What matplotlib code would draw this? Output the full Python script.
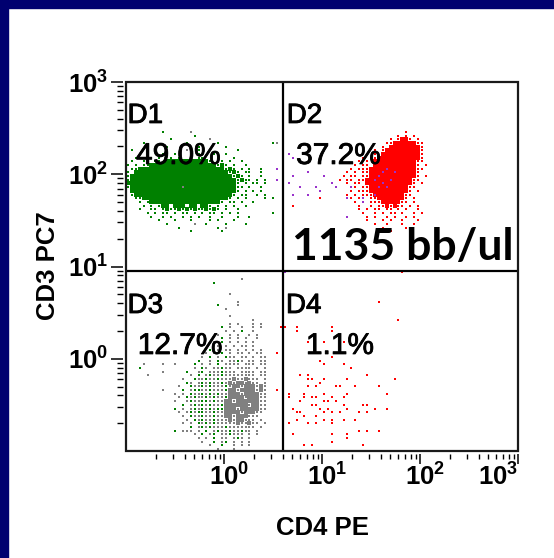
import numpy as np
import matplotlib
matplotlib.use("Agg")
import matplotlib.pyplot as plt
import matplotlib.patheffects as pe
from matplotlib.patches import Rectangle
from matplotlib.ticker import FixedLocator, FixedFormatter, LogLocator, NullFormatter
from matplotlib.transforms import ScaledTranslation

plt.rcParams['font.family'] = 'Liberation Sans'
plt.rcParams['mathtext.fontset'] = 'custom'
plt.rcParams['mathtext.rm'] = 'Liberation Sans:bold'
plt.rcParams['mathtext.it'] = 'Liberation Sans:bold'
plt.rcParams['mathtext.bf'] = 'Liberation Sans:bold'

# quadrant gates
gate_cd4 = 4.0
gate_cd3 = 9.0

quadrants = ['D1', 'D2', 'D3', 'D4']
percents = ['49.0%', '37.2%', '12.7%', '1.1%']
count_text = '1135 bb/ul'

decade_ticks = [1, 10, 100, 1000]
decade_labels = [r'$\mathbf{10^{0}}$', r'$\mathbf{10^{1}}$',
                 r'$\mathbf{10^{2}}$', r'$\mathbf{10^{3}}$']

event_colors = {'g': '#008000', 'r': '#ff0000', 'k': '#808080', 'p': '#9932cc'}

# event maps on a 0.04-decade log grid.
# tokens: "col:pattern" puts events from col on, "a-b:C" fills a run,
# lower case = single event, upper case = saturated cell, '_' clears
cell = 0.04

d1_origin = (-1.00, 2.48)
d1_rows = [
    "9:g 16:k",
    "17:g",
    "11:g 21:k",
    "4:g 15:g 23:g 37:gk",
    "10:g 18:g 25:g",
    "1:g 7:g 15:k 18:g 28:g",
    "3:g 9:g 12:g 18:g 22:g 25:g",
    "2:g..g..g..g.g..g.gg...g...g",
    "1:g..gg.gg.g.g 10-20:G 12:g 21:g.gg.g..g",
    "0:g.g.gg 6-22:G 23:gGg.g..g 30:g",
    "0:.gg 3-24:G 25:gGg.g.g..g 38:p",
    "0:g.g 2-25:G 26:gGg.gg..g",
    "0:gg 1-26:G 27:gGg.g..g",
    "0:g 1-27:G 28:gGgg.g.g 38:p",
    "0:G 1-27:G 28:g.g.gg.g",
    "0:g 1-27:G 14:k 28:gg.g..g",
    "0:.g 1-27:G 28:g.g.g.g",
    "1:g 2-26:G 27:g.gg..g.g",
    "2:gg 4-25:G 26:g.g.g....g 37:g",
    "3:g.gg 6-23:G 24:g.gg.g..g",
    "4:g.g.g 9-20:G 11:_ 15:_ 18:_ 21:g.g.g.g..g",
    "3:g..gg.gGggGgGgGggGgGg.g..g",
    "5:g.g.gg.g.gg.g.g.gg.g.g.g 37:g",
    "6:g..g.g..g.g.g..g..g...g..g",
    "8:g...g...g....g.g...g",
    "10:g......k..g....g....g",
    "13:g.........g.k",
    "16:g.......g",
]

d2_origin = (0.60, 2.48)
d2_rows = [
    "31:r",
    "29:r.r.r",
    "27:r.rRRr.r",
    "26:rr 28-33:R 34:rr",
    "25:r.r 27-34:R 35:r",
    "23:r.rr 26-34:R 35:r",
    "21:r.r.r 25-34:R 35:r 1:p",
    "20:r.rr 24-34:R 35:r 2:p",
    "19:r.r.rr 23-33:R 34:rr",
    "18:r.rr.rr 23-33:R 34:r.r",
    "17:r.rrrr 22-33:R 34:rr 26:p",
    "16:r.r.rrr 22-33:R 34:r 25:p 28:p 6:p",
    "15:r.rr.rrr 22-33:R 34:r.r 24:p 2:p 10:p",
    "16:rr.rrrr 21-32:R 33:rr 23:p 27:p 14:r",
    "16:r.rr.rr 21-32:R 33:r.r 25:p 1:p 12:p",
    "17:rr.rrr 22-31:R 32:rr 24:p 26:p 4:p 8:p 13:p 17:p",
    "17:r.rrrr 22-31:R 32:r.r 9:p",
    "16:r.r.rrr 23-30:R 31:rr 23:p 2:p 6:p",
    "17:r.rr.rrr 24-30:R 31:r.r 9:r 16:p 20:p",
    "18:r.r.rrrr 25-29:R 30:rr.r 20:p",
    "19:r..r.rrRrRrr.r.r 2:r",
    "19:r.r.rr.rr.r.r..r",
    "20:r..r.r.rr.r..r.r",
    "21:r.r..r.r..r.r 16:p",
    "21:r...r.r..r...r",
    "23:r..r...r..r",
    "25:r.....r",
    "27:r",
]

d3_origin = (-1.00, 1.00)
d3_rows = [
    "", "", "",
    "29:k",
    "22:g",
    "", "",
    "26:k",
    "",
    "28:k",
    "23:g 28:k",
    "25:k",
    "",
    "26:k",
    "32:k",
    "26:k.k 32:k.k",
    "24:g.k..k..k.k 39:r",
    "25:k.k.g..k",
    "23:k..k.k..k.k",
    "24:g.k.k.k..k",
    "22:k.g.k.k.k.k",
    "23:k.k.k.kk.k",
    "21:g.k.kk.k.k.k.k",
    "20:k.k.g.k.kk.k.kk 38:r",
    "19:k.g.k.gkk.kk.k.kk",
    "18:g..k.gk.kkgk.kk.kk",
    "4:k 9:k 12:k 17:g.k.k.g.kkkk.kkk.kk",
    "3:g 17:k.gk.kkgkk.kkkk.k.k",
    "9:k 15:g..kg.kkkgkkk.kkkk.kk",
    "5:k 16:k.g.kgkkgkkkkkkkk.kk",
    "14:k..gkkgkkgkkkKkkKkkk.k",
    "15:gk.kgkgkkgkKkKKkKkk.k",
    "13:k..gkkgkgkkkgkKKkKKKkKk",
    "9:k 14:g.kggkkgkkkgKKkKKKKkKk 38:r",
    "12:k.k.gkkgkgkgkkKKKkKKKKkk",
    "13:k.gkgkkgkgkkgKKKKkKKKkk",
    "12:k..kgkkggkgkkKKkKKKKKKkk",
    "14:g.kgkgkgkkgKKKKKKkKKkk",
    "12:g.k.kgkgkgkggKKKkKKKKKkk",
    "13:k.kgkggkkgkkKKKKkKKKkk",
    "14:k.gkkgkkgkkKKkKKKkkk",
    "15:k.gkgkkgkkkKkKKkkk.k",
    "14:k.k.gkgkgkkkkkKkkKkk.k",
    "16:g.kgkgkkkgkkkkkkk.k",
    "12:g 14:kkk.k.g.kgkkgkkgkk.k",
    "17:k.g.kg.kkgkkk.k.k",
    "18:k.k.g.kk.kgk.k",
    "19:k..g.kg.k.k.k",
    "21:k..g..k.k.k",
    "23:k...k",
]

d4_origin = (0.60, 1.00)
d4_rows = [
    "",
    "0:p 30:r",
    "", "", "", "", "", "", "",
    "24:r",
    "", "", "", "",
    "29:r",
    "",
    "0:r 3:r 12:r",
    "3:r 12:r",
    "", "",
    "6:r 10:r 15:r",
    "", "",
    "8:p",
    "12:r",
    "9:r",
    "10:r 15:r",
    "17:r",
    "",
    "4:r 6:r 21:r",
    "6:rr 10:r 16:r 28:r",
    "9:r",
    "6:r.r 13:rr 18:r 24:r",
    "",
    "1:r 5:r 10:r 16:r 26:r",
    "1:r 5:r 7:rr 12:r 15:r",
    "4:r 10:rr 13:r",
    "7:rr 15:r 20:rr",
    "2:r 9:r 11:r 16:r 23:r 26:r",
    "3:rr 10:r 12:r 14:r 19:r 21:r",
    "5:r 8:r",
    "3:r 10:r 12:r 15:r 18:r",
    "1:r 6:r 8:r 12:r",
    "",
    "19:r 21:r 24:r",
    "2:r 12:r 16:r",
    "16:r",
    "12:r",
    "5:r 7:r 20:r",
]


def parse_rows(rows, origin):
    """Turn an event map into {code: [(log x, log y), ...]}."""
    x0, y0 = origin
    events = {}
    for i, row in enumerate(rows):
        cells = {}
        for tok in row.split():
            spec, pat = tok.split(':')
            if '-' in spec:
                a, b = map(int, spec.split('-'))
                for j in range(a, b + 1):
                    cells[j] = [pat]
                continue
            start = int(spec)
            for k, ch in enumerate(pat):
                j = start + k
                if ch == '_':
                    cells.pop(j, None)
                elif ch == '.':
                    continue
                elif ch.islower() and j in cells and cells[j][0].isupper():
                    # a single event drawn on top of a saturated cell
                    cells[j] = [cells[j][0], ch]
                else:
                    cells[j] = [ch]
        for j, codes in cells.items():
            for ch in codes:
                events.setdefault(ch, []).append(
                    (x0 + cell * (j + 0.5), y0 - cell * (i + 0.5)))
    return events


fig = plt.figure(figsize=(5.54, 5.58), dpi=100)
fig.patch.set_facecolor('white')
navy = '#000070'
fig.add_artist(Rectangle((0, 0), 8 / 554, 1, transform=fig.transFigure, color=navy, zorder=0))
fig.add_artist(Rectangle((0, 1 - 8 / 558), 1, 8 / 558, transform=fig.transFigure, color=navy, zorder=0))

ax = fig.add_axes([126 / 554, 107 / 558, 392 / 554, 369 / 558])
ax.set_xscale('log')
ax.set_yscale('log')
ax.set_xlim(0.1, 1000)
ax.set_ylim(0.1, 1000)

draw_order = ['K', 'G', 'R', 'k', 'g', 'r', 'p']
for rows, origin in [(d3_rows, d3_origin), (d1_rows, d1_origin),
                     (d2_rows, d2_origin), (d4_rows, d4_origin)]:
    events = parse_rows(rows, origin)
    for code in draw_order:
        if code not in events:
            continue
        xy = np.array(events[code])
        solid = code.isupper()
        ax.scatter(10 ** xy[:, 0], 10 ** xy[:, 1], marker='s',
                   s=10.5 if solid else 4.4, c=event_colors[code.lower()],
                   linewidths=0, antialiased=solid,
                   zorder=2 if solid else 3)

# quadrant gates
ax.axvline(gate_cd4, color='black', lw=1.6, zorder=5)
ax.axhline(gate_cd3, color='black', lw=1.6, zorder=5)

# log decades with minor ticks
for axis in (ax.xaxis, ax.yaxis):
    axis.set_major_locator(FixedLocator(decade_ticks))
    axis.set_major_formatter(FixedFormatter(decade_labels))
    axis.set_minor_locator(LogLocator(base=10, subs=np.arange(2, 10)))
    axis.set_minor_formatter(NullFormatter())
ax.tick_params(which='both', direction='out', color='black', labelsize=18.5)
ax.tick_params(axis='x', which='major', length=7.2, width=1.1, pad=0)
ax.tick_params(axis='x', which='minor', length=3.6, width=1.0)
ax.tick_params(axis='y', which='major', length=8.6, width=1.1, pad=2)
ax.tick_params(axis='y', which='minor', length=4.3, width=1.0)
for side in ['left', 'bottom']:
    ax.spines[side].set_position(('outward', 2))
    ax.spines[side].set_color('none')
for side in ['top', 'right']:
    ax.spines[side].set_visible(False)
ax.add_patch(Rectangle((0, 0), 1, 1, transform=ax.transAxes, fill=False,
                       ec='#1a1a1a', lw=1.6, clip_on=False, zorder=6))

# "10" sits centred on the tick, exponent hangs to the right
xlabels = ax.get_xticklabels()
shift = ScaledTranslation(5 / 100, 0, fig.dpi_scale_trans)
for lab in xlabels[:-1]:
    lab.set_transform(lab.get_transform() + shift)
xlabels[-1].set_horizontalalignment('right')

ax.set_xlabel('CD4 PE', fontsize=18.5, fontweight='bold')
ax.xaxis.set_label_coords(0.5, -0.2276)
ax.xaxis.label.set_verticalalignment('baseline')
ax.set_ylabel('CD3 PC7', fontsize=18.5, fontweight='bold')
ax.yaxis.set_label_coords(-0.181, 0.5027)
ax.yaxis.label.set_verticalalignment('baseline')

# quadrant names and percentages
heavy = [pe.withStroke(linewidth=0.6, foreground='black')]
name_pos = [(0.004, 0.889), (0.410, 0.889), (0.004, 0.374), (0.408, 0.374)]
pct_pos = [(0.0255, 0.778), (0.434, 0.778), (0.030, 0.263), (0.459, 0.263)]
for name, pct, (nx, ny), (px, py) in zip(quadrants, percents, name_pos, pct_pos):
    ax.text(nx, ny, name, transform=ax.transAxes, fontsize=20,
            ha='left', va='baseline', zorder=10, path_effects=heavy)
    ax.text(px, py, pct, transform=ax.transAxes, fontsize=21.5,
            ha='left', va='baseline', zorder=10, path_effects=heavy)

ax.text(0.4235, 0.518, count_text, transform=ax.transAxes, fontsize=32,
        fontfamily='Lato', fontweight='bold', ha='left', va='baseline', zorder=10)

fig.savefig('out.png', dpi=100)
